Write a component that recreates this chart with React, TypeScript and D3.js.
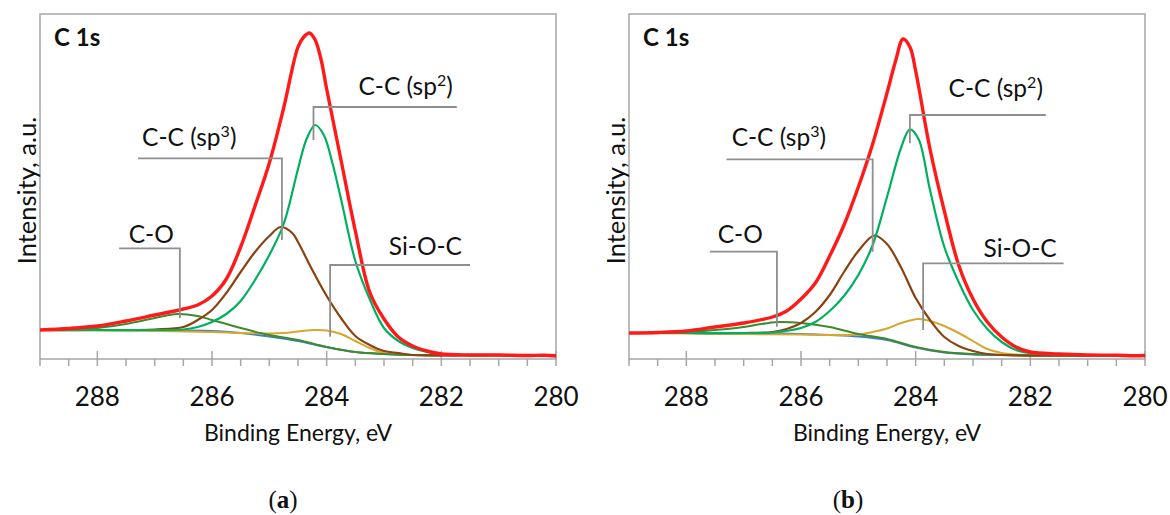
import React from "react";
import * as d3 from "d3";

// ---------- data (binding energy eV, intensity a.u.) ----------
const MAJOR_TICKS = [288, 286, 284, 282, 280];
const PANEL_LETTERS = ["a", "b"];
const SPECTRUM_TITLE = "C 1s";
const X_TITLE = "Binding Energy, eV";
const Y_TITLE = "Intensity, a.u.";

// Panel (a)
const A_TOTAL: [number, number][] = [
  [289, 29], [288.5, 30.5], [288, 33], [287.5, 38], [287, 44], [286.5, 50], [286.25, 54], [286, 63],
  [285.75, 80], [285.5, 112], [285.25, 153], [285, 196], [284.75, 251], [284.5, 312], [284.4, 322],
  [284.3, 326], [284.2, 319], [284.1, 300], [284, 270], [283.75, 199], [283.5, 128], [283.25, 67],
  [283, 40], [282.75, 22], [282.5, 13], [282.25, 8], [282, 5], [281.5, 4], [281, 4], [280.5, 3.5],
  [280.2, 3.8], [280, 3],
];
const A_SP2: [number, number][] = [
  [289, 29], [288, 29], [287, 29], [286.5, 29.5], [286.25, 32], [286, 37], [285.75, 45], [285.5, 58],
  [285.25, 79], [285, 104], [284.75, 135], [284.5, 190], [284.35, 220], [284.2, 234], [284.05, 224],
  [283.9, 196], [283.75, 160], [283.5, 98], [283.25, 60], [283, 31], [282.75, 18], [282.5, 11],
  [282.25, 7], [282, 5], [281, 4], [280, 3.5],
];
const A_SP3: [number, number][] = [
  [289, 29], [288, 29], [287, 29.5], [286.5, 32], [286.25, 39], [286, 49], [285.75, 66], [285.5, 87],
  [285.25, 107], [285, 123], [284.8, 132], [284.6, 126], [284.5, 117], [284.25, 89], [284, 63],
  [283.75, 41], [283.5, 23], [283.25, 14], [283, 8], [282.75, 6], [282.5, 4], [281, 4], [280, 3.5],
];
const A_CO: [number, number][] = [
  [289, 29], [288.5, 29], [288, 31], [287.5, 35], [287, 41], [286.75, 44], [286.6, 45], [286.25, 43],
  [286, 39], [285.5, 31], [285, 24], [284.5, 19], [284, 12], [283.5, 7], [283, 5], [282.5, 4], [281, 4], [280, 3.5],
];
const A_SIOC: [number, number][] = [
  [289, 29], [288, 28.5], [287, 28], [286, 27], [285.5, 26], [285, 25.5], [284.75, 26], [284.5, 27.5],
  [284.2, 29], [284, 28.5], [283.75, 25], [283.5, 18], [283.25, 11], [283, 6], [282.75, 4.5], [282.5, 4], [280, 3.5],
];
const A_BG: [number, number][] = [
  [289, 29], [287, 29], [286, 28], [285.5, 26], [285, 22.5], [284.5, 18], [284, 12], [283.5, 7],
  [283, 5], [282.5, 4], [280, 3.5],
];

// Panel (b)
const B_TOTAL: [number, number][] = [
  [289, 26], [288.5, 26.5], [288, 28], [287.5, 32], [287, 36], [286.5, 42], [286.25, 48], [286, 60],
  [285.75, 76], [285.5, 103], [285.25, 134], [285, 172], [284.75, 215], [284.5, 266], [284.35, 298],
  [284.22, 320], [284.1, 312], [284, 288], [283.75, 210], [283.5, 148], [283.25, 94], [283, 60],
  [282.75, 37], [282.5, 22], [282.25, 12], [282, 7], [281.5, 5], [281, 4], [280.5, 3.8], [280.2, 3.2], [280, 3.5],
];
const B_SP2: [number, number][] = [
  [289, 26], [288, 26], [287, 26], [286.5, 26.5], [286, 31], [285.75, 37], [285.5, 48], [285.25, 63],
  [285, 84], [284.75, 114], [284.5, 162], [284.25, 212], [284.1, 229.7], [283.95, 220], [283.75, 169],
  [283.5, 112], [283.25, 77], [283, 49], [282.75, 30], [282.5, 17], [282.25, 9], [282, 6], [281.5, 4], [280, 3.5],
];
const B_SP3: [number, number][] = [
  [289, 26], [288, 26], [287, 26], [286.5, 27], [286.25, 30], [286, 36], [285.75, 47], [285.5, 64],
  [285.25, 87], [285, 108], [284.72, 123.5], [284.5, 115], [284.25, 91], [284, 61], [283.75, 39],
  [283.5, 22], [283.25, 13], [283, 8], [282.75, 5], [282.5, 4], [280, 3.5],
];
const B_CO: [number, number][] = [
  [289, 26], [288.5, 26], [288, 27], [287.5, 29], [287, 32], [286.75, 34.5], [286.4, 37], [286, 36],
  [285.5, 32], [285, 25], [284.5, 20], [284, 12], [283.5, 7], [283, 5], [282.5, 4], [280, 3.5],
];
const B_SIOC: [number, number][] = [
  [289, 26], [288, 25.5], [287, 25], [286, 24.5], [285.5, 24], [285, 24.5], [284.75, 27], [284.5, 30.5],
  [284.25, 36], [283.95, 40], [283.75, 38], [283.5, 33], [283.25, 26], [283, 18], [282.75, 10],
  [282.5, 6], [282.25, 4.5], [282, 4], [280, 3.5],
];
const B_BG: [number, number][] = [
  [289, 26], [287, 26], [286, 25], [285.5, 24], [285, 22.5], [284.5, 19], [284, 11.5], [283.5, 6.5],
  [283, 4.5], [282.5, 4], [280, 3.5],
];

// Callout annotations (all in data units)
type Ann = { parts: [string, string?]; vx: number; hx: number; hy: number; vy: number; lx: number; ly: number; anchor: string };
const A_ANN: Ann[] = [
  { parts: ["C-C (sp", "2"], vx: 284.23, hx: 281.73, hy: 252, vy: 219, lx: 281.8, ly: 264, anchor: "end" },
  { parts: ["C-C (sp", "3"], vx: 284.78, hx: 287.29, hy: 200.7, vy: 119, lx: 287.22, ly: 213, anchor: "start" },
  { parts: ["C-O"], vx: 286.56, hx: 287.62, hy: 110.7, vy: 40.7, lx: 287.06, ly: 116, anchor: "middle" },
  { parts: ["Si-O-C"], vx: 283.94, hx: 281.5, hy: 94, vy: 22.3, lx: 281.64, ly: 104, anchor: "end" },
];
const B_ANN: Ann[] = [
  { parts: ["C-C (sp", "2"], vx: 284.1, hx: 281.73, hy: 244, vy: 215.7, lx: 281.78, ly: 262, anchor: "end" },
  { parts: ["C-C (sp", "3"], vx: 284.75, hx: 287.3, hy: 199.7, vy: 107.3, lx: 287.21, ly: 213, anchor: "start" },
  { parts: ["C-O"], vx: 286.42, hx: 287.59, hy: 107.3, vy: 32.3, lx: 287.06, ly: 116, anchor: "middle" },
  { parts: ["Si-O-C"], vx: 283.87, hx: 281.42, hy: 95.7, vy: 29, lx: 281.54, ly: 102, anchor: "end" },
];

const FONT = "Lato, 'Open Sans', sans-serif";
const GRAY = "#8f8f8f";

type PanelProps = {
  left: number;
  total: [number, number][];
  sp2: [number, number][];
  sp3: [number, number][];
  co: [number, number][];
  sioc: [number, number][];
  bg: [number, number][];
  ann: Ann[];
  letter: string;
  letterX: number;
};

function Panel(p: PanelProps) {
  const width = 516;
  const top = 14;
  const bottom = 359;
  const x = d3.scaleLinear().domain([289, 280]).range([p.left, p.left + width]);
  const y = d3.scaleLinear().domain([0, 345]).range([bottom, top]);
  const line = d3
    .line<[number, number]>()
    .x((d) => x(d[0]))
    .y((d) => y(d[1]))
    .curve(d3.curveCatmullRom.alpha(0.5));
  const minor = x.ticks(18);
  const series = [
    { d: p.bg, c: "#3c7fc0", w: 2 },
    { d: p.sioc, c: "#d6a72e", w: 2 },
    { d: p.co, c: "#3f8a2c", w: 2 },
    { d: p.sp3, c: "#8b4210", w: 2.2 },
    { d: p.sp2, c: "#00b060", w: 2.2 },
    { d: p.total, c: "#ff1a1a", w: 3.4 },
  ];
  const cx = (p.left + p.left + width) / 2;
  return (
    <g>
      <rect x={p.left} y={top} width={width} height={bottom - top} fill="none" stroke="#a6a6a6" strokeWidth={1.5} />
      {minor.map((t) => {
        const major = MAJOR_TICKS.includes(t);
        return (
          <line key={t} x1={x(t)} x2={x(t)} y1={major ? bottom - 8 : bottom} y2={bottom + 7} stroke="#a6a6a6" strokeWidth={1.5} />
        );
      })}
      {MAJOR_TICKS.map((t) => (
        <text key={t} x={x(t)} y={406} textAnchor="middle" fontFamily={FONT} fontSize={26} fill="#111">
          {String(t)}
        </text>
      ))}
      <text x={cx} y={441} textAnchor="middle" fontFamily={FONT} fontSize={23} fill="#111">
        {X_TITLE}
      </text>
      <text
        transform={`translate(${p.left - 4},${(top + bottom) / 2 + 4}) rotate(-90)`}
        textAnchor="middle"
        fontFamily={FONT}
        fontSize={25.5}
        fill="#111"
      >
        {Y_TITLE}
      </text>
      <text x={p.left + 14} y={46} fontFamily={FONT} fontWeight="bold" fontSize={24} fill="#111">
        {SPECTRUM_TITLE}
      </text>
      {series.map((s, i) => (
        <path key={i} d={line(s.d) || ""} fill="none" stroke={s.c} strokeWidth={s.w} strokeLinejoin="round" />
      ))}
      {p.ann.map((a, i) => (
        <g key={i}>
          <path
            d={`M${x(a.hx)},${y(a.hy)}H${x(a.vx)}V${y(a.vy)}`}
            fill="none"
            stroke={GRAY}
            strokeWidth={1.8}
          />
          <text x={x(a.lx)} y={y(a.ly)} textAnchor={a.anchor} fontFamily={FONT} fontSize={24.5} fill="#111">
            {a.parts[0]}
            {a.parts[1] ? (
              <>
                <tspan dy={-9} fontSize={16}>
                  {a.parts[1]}
                </tspan>
                <tspan dy={9}>)</tspan>
              </>
            ) : null}
          </text>
        </g>
      ))}
      <text x={p.letterX} y={508} textAnchor="middle" fontFamily="'Liberation Serif', 'DejaVu Serif', serif" fontSize={25} fill="#111">
        (<tspan fontWeight="bold">{p.letter}</tspan>)
      </text>
    </g>
  );
}

export default function App() {
  return (
    <svg
      width={1170}
      height={515}
      viewBox="0 0 1170 515"
      style={{ position: "absolute", left: 0, top: 0, background: "#fff" }}
    >
      <rect x={0} y={0} width={1170} height={515} fill="#fff" />
      <Panel left={40} total={A_TOTAL} sp2={A_SP2} sp3={A_SP3} co={A_CO} sioc={A_SIOC} bg={A_BG} ann={A_ANN} letter={PANEL_LETTERS[0]} letterX={283} />
      <Panel left={629} total={B_TOTAL} sp2={B_SP2} sp3={B_SP3} co={B_CO} sioc={B_SIOC} bg={B_BG} ann={B_ANN} letter={PANEL_LETTERS[1]} letterX={848} />
    </svg>
  );
}
